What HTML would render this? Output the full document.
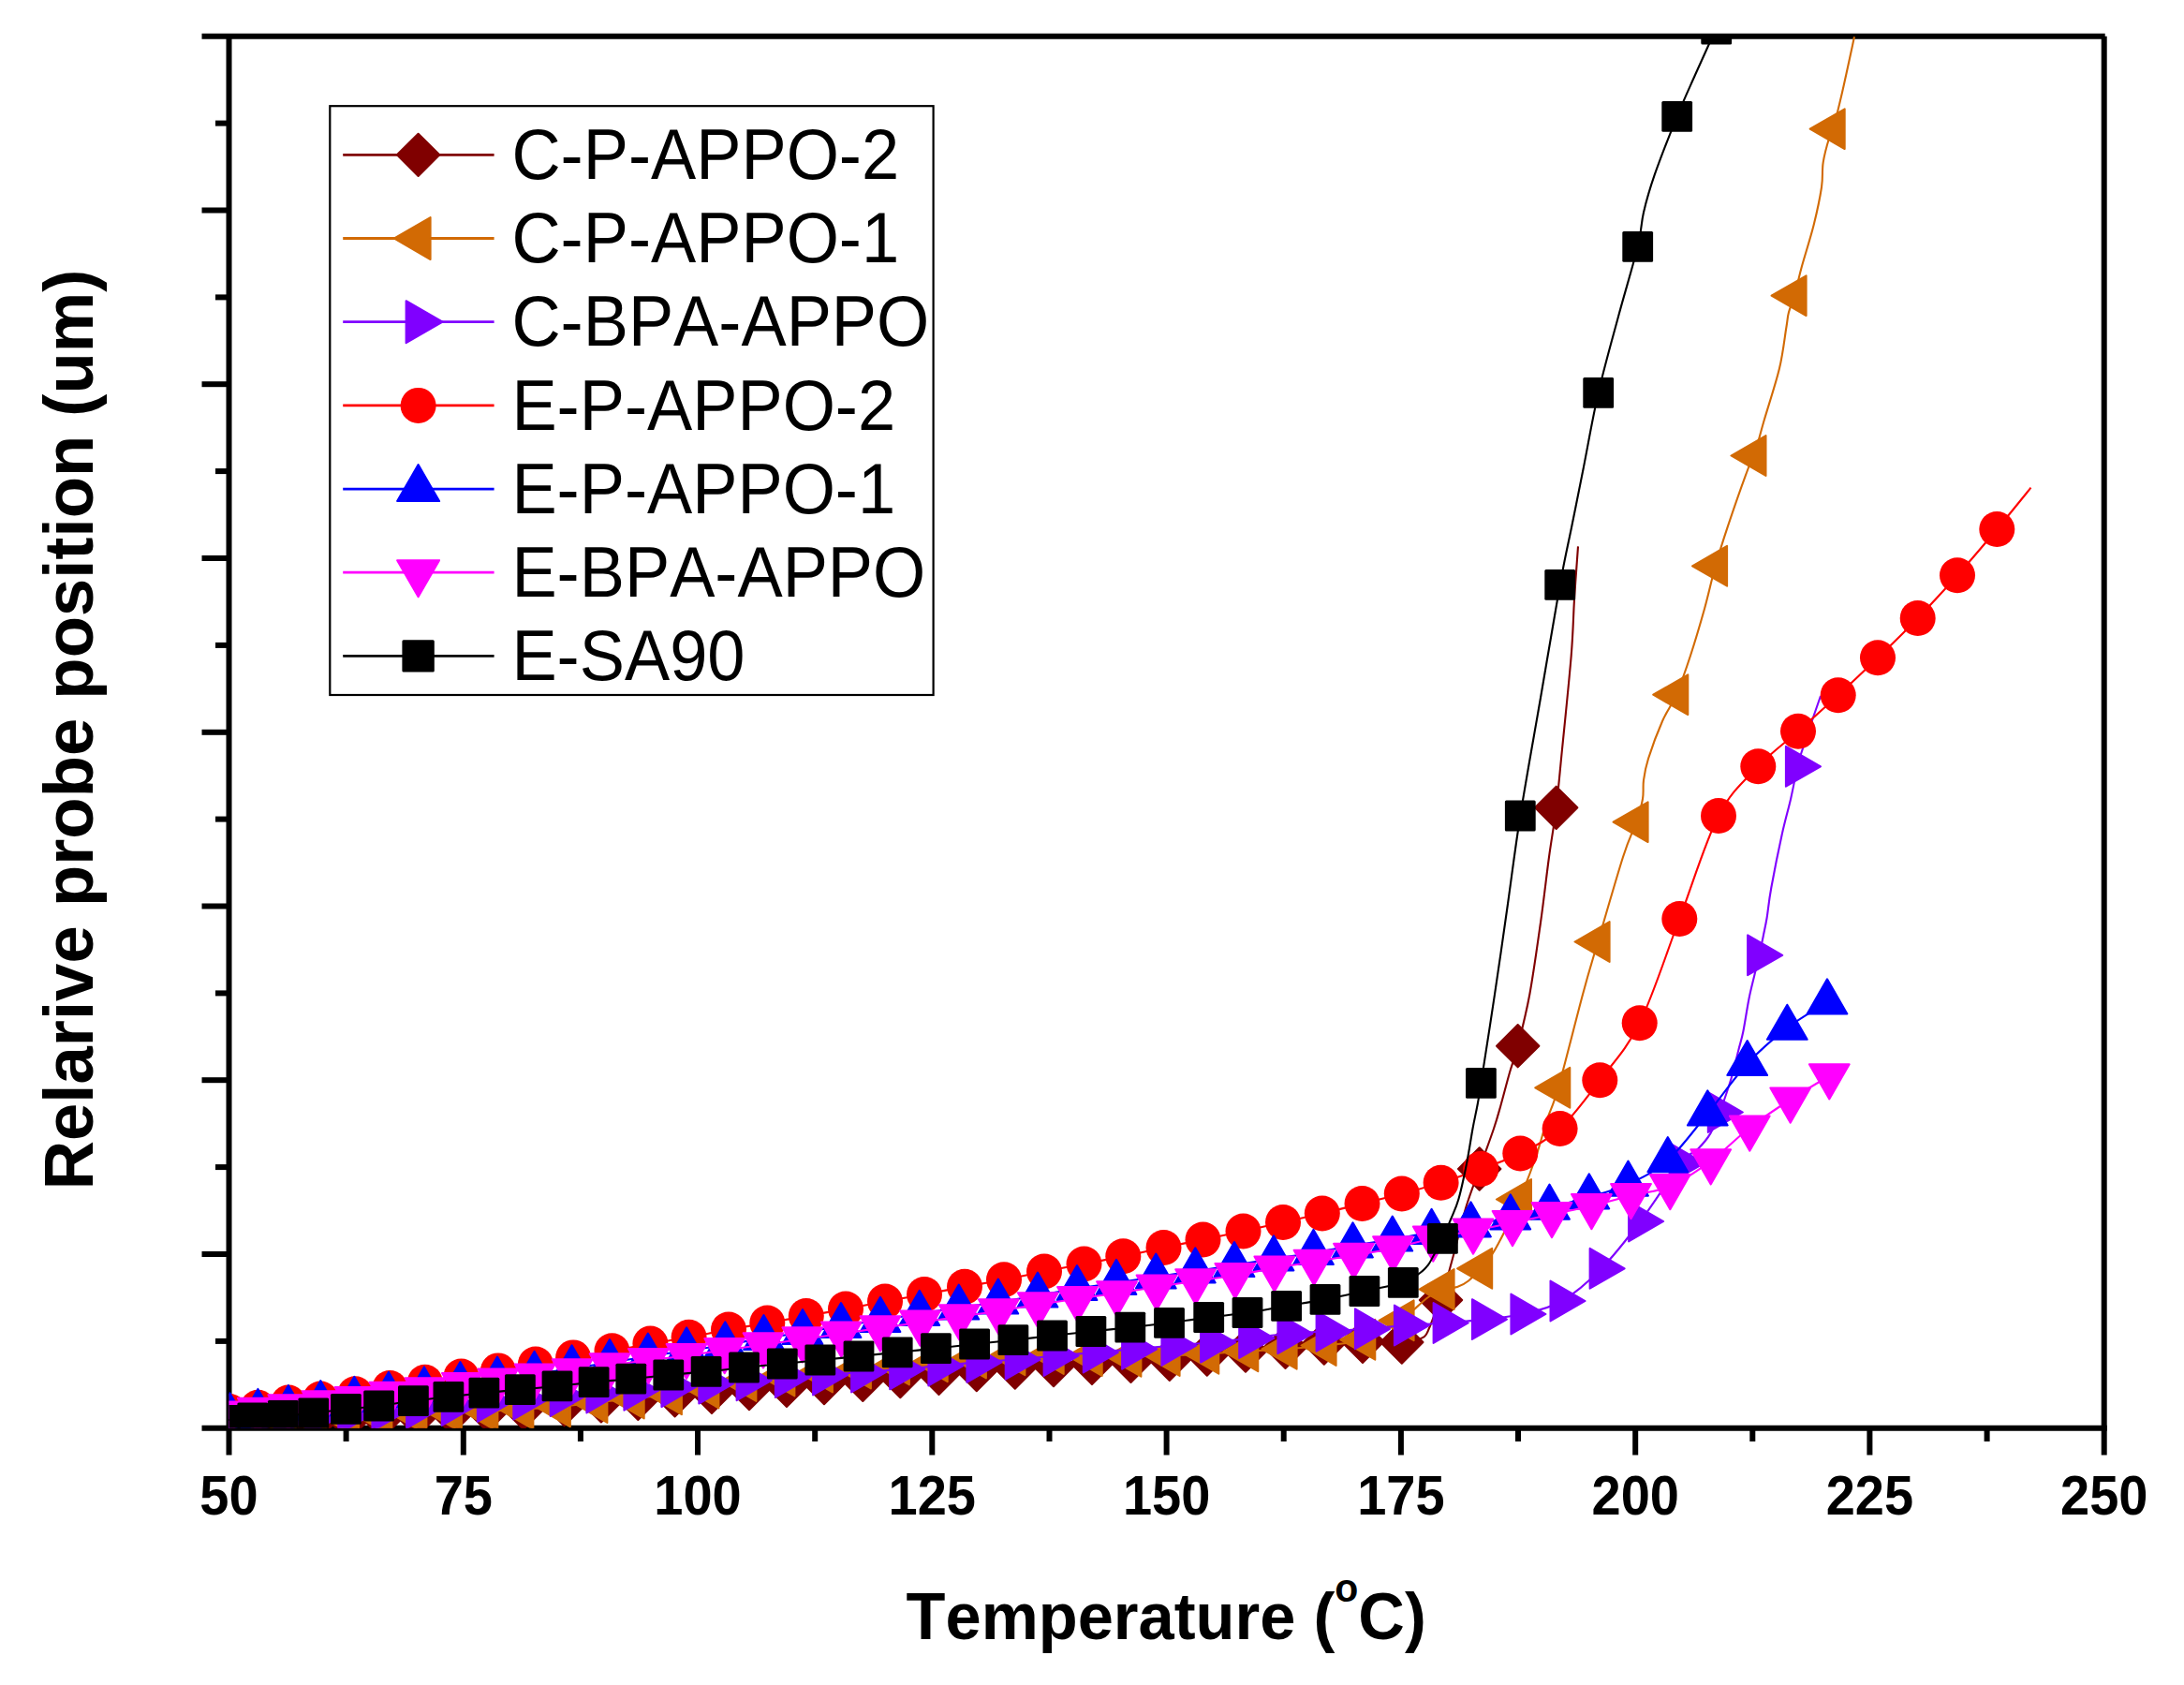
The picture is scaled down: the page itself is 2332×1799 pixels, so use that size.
<!DOCTYPE html>
<html lang="en"><head><meta charset="utf-8"><title>Relative probe position vs Temperature</title>
<style>
html,body{margin:0;padding:0;background:#fff;}
body{width:2332px;height:1799px;overflow:hidden;}
svg{display:block;}
text{font-family:"Liberation Sans",sans-serif;fill:#000;font-kerning:none;}
.tick{font-weight:bold;font-size:56px;text-anchor:middle;}
.xt{font-weight:bold;font-size:68.65px;}
.yt{font-weight:bold;font-size:72.5px;text-anchor:middle;}
.leg{font-size:72.3px;font-kerning:none;}
</style></head><body>
<svg width="2332" height="1799" viewBox="0 0 2332 1799">
<rect width="2332" height="1799" fill="#fff"/>
<defs><clipPath id="plot"><rect x="244.5" y="38.8" width="2002.2" height="1486"/></clipPath></defs>
<g stroke="#000" stroke-width="6" fill="none" stroke-linecap="butt">
<path d="M215.5,1524.8 H2249.7"/>
<path d="M215.5,38.8 H2247.7"/>
<path d="M244.5,36.2 V1553.5"/>
<path d="M2246.7,38.8 V1553.5"/>
<path d="M369.6,1524.8 V1539"/>
<path d="M494.8,1524.8 V1553.5"/>
<path d="M619.9,1524.8 V1539"/>
<path d="M745,1524.8 V1553.5"/>
<path d="M870.2,1524.8 V1539"/>
<path d="M995.3,1524.8 V1553.5"/>
<path d="M1120.5,1524.8 V1539"/>
<path d="M1245.6,1524.8 V1553.5"/>
<path d="M1370.7,1524.8 V1539"/>
<path d="M1495.9,1524.8 V1553.5"/>
<path d="M1621,1524.8 V1539"/>
<path d="M1746.2,1524.8 V1553.5"/>
<path d="M1871.3,1524.8 V1539"/>
<path d="M1996.4,1524.8 V1553.5"/>
<path d="M2121.6,1524.8 V1539"/>
<path d="M230,1431.9 H244.5"/>
<path d="M215.5,1339 H244.5"/>
<path d="M230,1246.1 H244.5"/>
<path d="M215.5,1153.2 H244.5"/>
<path d="M230,1060.4 H244.5"/>
<path d="M215.5,967.5 H244.5"/>
<path d="M230,874.6 H244.5"/>
<path d="M215.5,781.8 H244.5"/>
<path d="M230,688.9 H244.5"/>
<path d="M215.5,596 H244.5"/>
<path d="M230,503.1 H244.5"/>
<path d="M215.5,410.2 H244.5"/>
<path d="M230,317.4 H244.5"/>
<path d="M215.5,224.5 H244.5"/>
<path d="M230,131.6 H244.5"/>
</g>
<g clip-path="url(#plot)">
<g>
<path d="M241.5,1522C246.5,1521.8 261.2,1521 271.5,1520.5C281.8,1520 292.6,1519.6 303.5,1519C314.4,1518.4 325.6,1517.7 337,1517C348.4,1516.3 360.2,1515.7 372,1515C383.8,1514.3 395.8,1513.7 408,1513C420.2,1512.3 432.6,1511.8 445,1511C457.4,1510.2 469.9,1509.3 482.5,1508.5C495.1,1507.7 507.8,1506.8 520.5,1506C533.2,1505.2 545.3,1504.6 559,1503.5C572.7,1502.4 588.7,1500.8 602.5,1499.5C616.3,1498.2 628.8,1496.8 641.9,1495.8C655,1494.8 668.2,1494.3 681.3,1493.3C694.4,1492.3 707.5,1490.9 720.6,1489.8C733.7,1488.7 746.8,1487.6 760,1486.4C773.2,1485.2 786.7,1483.7 800,1482.5C813.3,1481.3 826.7,1480.3 840,1479.3C853.3,1478.3 866.5,1477.5 880,1476.5C893.5,1475.5 907.8,1474.5 921.3,1473.3C934.8,1472.1 947.8,1470.7 961.3,1469.5C974.8,1468.3 988.9,1467.6 1002.5,1466.4C1016.1,1465.2 1029.2,1463.6 1042.8,1462.6C1056.3,1461.5 1070.1,1460.9 1083.8,1460.1C1097.5,1459.3 1111.3,1458.4 1125,1457.6C1138.7,1456.8 1152.2,1456.1 1166,1455.4C1179.8,1454.7 1193.7,1454 1207.5,1453.3C1221.3,1452.6 1235.2,1452.5 1248.8,1451.3C1262.3,1450.1 1275.3,1447.5 1288.8,1446C1302.3,1444.5 1316,1443.3 1330,1442C1344,1440.7 1358.5,1439.6 1372.5,1438.3C1386.5,1437 1400,1435 1413.8,1434C1427.5,1433 1441.2,1432.5 1455,1432.3C1468.8,1432.1 1487.6,1433.2 1496.8,1433C1506,1432.8 1506,1432 1510,1431C1514,1430 1518.3,1429.2 1521,1427C1523.7,1424.8 1524.2,1422 1526,1418C1527.8,1414 1529.9,1408 1532,1403C1534.1,1398 1535.2,1398.5 1538.5,1388C1541.8,1377.5 1547.6,1356.3 1552,1340C1556.4,1323.7 1560.4,1305.3 1565,1290C1569.6,1274.7 1574.7,1262.2 1579.7,1248C1584.7,1233.8 1591.2,1216.3 1595,1205C1598.8,1193.7 1599.7,1190 1602.5,1180C1605.3,1170 1609,1155.5 1612,1145C1615,1134.5 1617.2,1130.6 1620.7,1116.7C1624.2,1102.8 1629.2,1083.7 1633.3,1061.7C1637.3,1039.8 1641.5,1009.5 1645,985C1648.5,960.5 1651.2,935.5 1654,915C1656.8,894.5 1659.4,881.5 1661.7,862.3C1664,843.1 1665.3,827 1668,800C1670.7,773 1675.5,726.7 1677.7,700C1679.9,673.3 1679.8,659.5 1681,640C1682.2,620.5 1684.3,592.8 1685,583.3" fill="none" stroke="#800000" stroke-width="2.1" stroke-linejoin="round" stroke-linecap="butt"/>
<polygon points="241.5,1499.3 264.2,1522 241.5,1544.7 218.8,1522" fill="#800000" stroke="#800000" stroke-width="2" stroke-linejoin="round"/>
<polygon points="271.5,1497.8 294.2,1520.5 271.5,1543.2 248.8,1520.5" fill="#800000" stroke="#800000" stroke-width="2" stroke-linejoin="round"/>
<polygon points="303.5,1496.3 326.2,1519 303.5,1541.7 280.8,1519" fill="#800000" stroke="#800000" stroke-width="2" stroke-linejoin="round"/>
<polygon points="337,1494.3 359.7,1517 337,1539.7 314.3,1517" fill="#800000" stroke="#800000" stroke-width="2" stroke-linejoin="round"/>
<polygon points="372,1492.3 394.7,1515 372,1537.7 349.3,1515" fill="#800000" stroke="#800000" stroke-width="2" stroke-linejoin="round"/>
<polygon points="408,1490.3 430.7,1513 408,1535.7 385.3,1513" fill="#800000" stroke="#800000" stroke-width="2" stroke-linejoin="round"/>
<polygon points="445,1488.3 467.7,1511 445,1533.7 422.3,1511" fill="#800000" stroke="#800000" stroke-width="2" stroke-linejoin="round"/>
<polygon points="482.5,1485.8 505.2,1508.5 482.5,1531.2 459.8,1508.5" fill="#800000" stroke="#800000" stroke-width="2" stroke-linejoin="round"/>
<polygon points="520.5,1483.3 543.2,1506 520.5,1528.7 497.8,1506" fill="#800000" stroke="#800000" stroke-width="2" stroke-linejoin="round"/>
<polygon points="559,1480.8 581.7,1503.5 559,1526.2 536.3,1503.5" fill="#800000" stroke="#800000" stroke-width="2" stroke-linejoin="round"/>
<polygon points="602.5,1476.8 625.2,1499.5 602.5,1522.2 579.8,1499.5" fill="#800000" stroke="#800000" stroke-width="2" stroke-linejoin="round"/>
<polygon points="641.9,1473.1 664.6,1495.8 641.9,1518.5 619.2,1495.8" fill="#800000" stroke="#800000" stroke-width="2" stroke-linejoin="round"/>
<polygon points="681.3,1470.6 704,1493.3 681.3,1516 658.6,1493.3" fill="#800000" stroke="#800000" stroke-width="2" stroke-linejoin="round"/>
<polygon points="720.6,1467.1 743.3,1489.8 720.6,1512.5 697.9,1489.8" fill="#800000" stroke="#800000" stroke-width="2" stroke-linejoin="round"/>
<polygon points="760,1463.7 782.7,1486.4 760,1509.1 737.3,1486.4" fill="#800000" stroke="#800000" stroke-width="2" stroke-linejoin="round"/>
<polygon points="800,1459.8 822.7,1482.5 800,1505.2 777.3,1482.5" fill="#800000" stroke="#800000" stroke-width="2" stroke-linejoin="round"/>
<polygon points="840,1456.6 862.7,1479.3 840,1502 817.3,1479.3" fill="#800000" stroke="#800000" stroke-width="2" stroke-linejoin="round"/>
<polygon points="880,1453.8 902.7,1476.5 880,1499.2 857.3,1476.5" fill="#800000" stroke="#800000" stroke-width="2" stroke-linejoin="round"/>
<polygon points="921.3,1450.6 944,1473.3 921.3,1496 898.6,1473.3" fill="#800000" stroke="#800000" stroke-width="2" stroke-linejoin="round"/>
<polygon points="961.3,1446.8 984,1469.5 961.3,1492.2 938.6,1469.5" fill="#800000" stroke="#800000" stroke-width="2" stroke-linejoin="round"/>
<polygon points="1002.5,1443.7 1025.2,1466.4 1002.5,1489.1 979.8,1466.4" fill="#800000" stroke="#800000" stroke-width="2" stroke-linejoin="round"/>
<polygon points="1042.8,1439.9 1065.5,1462.6 1042.8,1485.3 1020.1,1462.6" fill="#800000" stroke="#800000" stroke-width="2" stroke-linejoin="round"/>
<polygon points="1083.8,1437.4 1106.5,1460.1 1083.8,1482.8 1061.1,1460.1" fill="#800000" stroke="#800000" stroke-width="2" stroke-linejoin="round"/>
<polygon points="1125,1434.9 1147.7,1457.6 1125,1480.3 1102.3,1457.6" fill="#800000" stroke="#800000" stroke-width="2" stroke-linejoin="round"/>
<polygon points="1166,1432.7 1188.7,1455.4 1166,1478.1 1143.3,1455.4" fill="#800000" stroke="#800000" stroke-width="2" stroke-linejoin="round"/>
<polygon points="1207.5,1430.6 1230.2,1453.3 1207.5,1476 1184.8,1453.3" fill="#800000" stroke="#800000" stroke-width="2" stroke-linejoin="round"/>
<polygon points="1248.8,1428.6 1271.5,1451.3 1248.8,1474 1226.1,1451.3" fill="#800000" stroke="#800000" stroke-width="2" stroke-linejoin="round"/>
<polygon points="1288.8,1423.3 1311.5,1446 1288.8,1468.7 1266.1,1446" fill="#800000" stroke="#800000" stroke-width="2" stroke-linejoin="round"/>
<polygon points="1330,1419.3 1352.7,1442 1330,1464.7 1307.3,1442" fill="#800000" stroke="#800000" stroke-width="2" stroke-linejoin="round"/>
<polygon points="1372.5,1415.6 1395.2,1438.3 1372.5,1461 1349.8,1438.3" fill="#800000" stroke="#800000" stroke-width="2" stroke-linejoin="round"/>
<polygon points="1413.8,1411.3 1436.5,1434 1413.8,1456.7 1391.1,1434" fill="#800000" stroke="#800000" stroke-width="2" stroke-linejoin="round"/>
<polygon points="1455,1409.6 1477.7,1432.3 1455,1455 1432.3,1432.3" fill="#800000" stroke="#800000" stroke-width="2" stroke-linejoin="round"/>
<polygon points="1496.8,1410.3 1519.5,1433 1496.8,1455.7 1474.1,1433" fill="#800000" stroke="#800000" stroke-width="2" stroke-linejoin="round"/>
<polygon points="1538.5,1365.3 1561.2,1388 1538.5,1410.7 1515.8,1388" fill="#800000" stroke="#800000" stroke-width="2" stroke-linejoin="round"/>
<polygon points="1579.7,1225.3 1602.4,1248 1579.7,1270.7 1557,1248" fill="#800000" stroke="#800000" stroke-width="2" stroke-linejoin="round"/>
<polygon points="1620.7,1094 1643.4,1116.7 1620.7,1139.4 1598,1116.7" fill="#800000" stroke="#800000" stroke-width="2" stroke-linejoin="round"/>
<polygon points="1661.7,839.6 1684.4,862.3 1661.7,885 1639,862.3" fill="#800000" stroke="#800000" stroke-width="2" stroke-linejoin="round"/>
</g>
<g>
<path d="M241.5,1521C246.4,1520.8 260.7,1520 271,1519.5C281.3,1519 292.7,1518.6 303.5,1518C314.3,1517.4 324.8,1516.7 336,1516C347.2,1515.3 358.9,1514.7 370.6,1514C382.3,1513.3 393.9,1512.7 406,1512C418.1,1511.3 430.6,1510.7 443,1510C455.4,1509.3 467.8,1508.5 480.5,1508C493.2,1507.5 506.2,1507.6 519,1507C531.8,1506.4 544.1,1505.3 557,1504.5C569.9,1503.7 583.3,1503.1 596.5,1501.9C609.7,1500.7 622.9,1499 636,1497.5C649.1,1496 662,1494.5 675.3,1493.1C688.5,1491.6 702.2,1490.6 715.5,1488.8C728.8,1487 741.8,1484.4 755,1482C768.2,1479.6 781.5,1476.7 795,1474.5C808.5,1472.3 822.4,1470.6 836,1469C849.6,1467.4 862.9,1466.3 876.5,1465C890.1,1463.7 903.8,1462.3 917.5,1461C931.2,1459.7 944.9,1458.2 958.5,1457C972.1,1455.8 985.6,1455 999.3,1453.8C1013,1452.6 1026.7,1451.2 1040.5,1450C1054.3,1448.8 1068.2,1447.5 1082,1446.8C1095.8,1446 1109.6,1445.4 1123.3,1445.5C1137,1445.6 1150.5,1447 1164.3,1447.5C1178.1,1448 1192.2,1448.3 1206,1448.3C1219.8,1448.3 1233.4,1448 1247.2,1447.5C1261,1447 1275,1446.1 1288.9,1445.3C1302.9,1444.5 1317,1443.6 1330.9,1442.8C1344.8,1442 1358.3,1441.3 1372.2,1440.3C1386.1,1439.2 1400.2,1438.2 1414.2,1436.5C1428.2,1434.8 1442.1,1434.8 1455.9,1430.3C1469.7,1425.8 1488.2,1415.2 1497.2,1409.8C1506.2,1404.4 1505.4,1402.1 1510,1398C1514.6,1393.9 1520,1388.6 1525,1385C1530,1381.4 1535,1378.3 1540.2,1376.5C1545.4,1374.7 1551.4,1375.5 1556,1374C1560.6,1372.5 1563.9,1370.8 1568,1367.5C1572.1,1364.2 1576.5,1359.2 1580.8,1354.3C1585.1,1349.4 1589.5,1345 1594,1338C1598.5,1331 1603.2,1321.6 1608,1312C1612.8,1302.4 1617.3,1293.3 1622.6,1280.5C1627.9,1267.7 1635.1,1249.2 1640,1235C1644.9,1220.8 1648,1207.3 1652,1195C1656,1182.7 1657.6,1183.5 1663.9,1161.3C1670.2,1139.1 1683,1087.7 1690,1061.7C1697,1035.7 1699,1030 1706.2,1005.5C1713.4,981 1726.2,936.3 1733,915C1739.8,893.7 1743.7,888 1747.2,877.7C1750.7,867.4 1752.7,860.5 1754,853C1755.3,845.5 1754,840.2 1755,833C1756,825.8 1756.7,820.5 1760,810C1763.3,799.5 1770,781.4 1775,770C1780,758.6 1784.9,753.4 1789.9,741.7C1794.9,730 1800,715.3 1805,700C1810,684.7 1815.5,666 1820,650C1824.5,634 1827.5,619 1831.7,604.3C1835.9,589.6 1839.2,579.1 1845,561.7C1850.8,544.3 1862,512.5 1866.7,500C1871.4,487.5 1870.3,494.8 1873.1,486.5C1875.9,478.2 1878.8,465.5 1883.3,450C1887.8,434.5 1896,410 1900,393.3C1904,376.6 1905.6,360 1907.3,350C1909,340 1908.5,339 1910,333.3C1911.5,327.6 1914,323.5 1916.2,315.7C1918.4,307.9 1919.9,299.3 1923.3,286.7C1926.7,274.1 1933.1,254.4 1936.7,240C1940.3,225.6 1943.3,211.1 1945,200C1946.7,188.9 1945.3,182.2 1946.7,173.3C1948.1,164.4 1951.5,152.6 1953.3,146.7C1955.1,140.8 1955.1,145.5 1957.3,137.7C1959.5,129.9 1962.9,116.4 1966.7,100C1970.5,83.6 1977.8,49.4 1980,39.3" fill="none" stroke="#D26A04" stroke-width="2.1" stroke-linejoin="round" stroke-linecap="butt"/>
<polygon points="216.8,1521 253.9,1499.6 253.9,1542.4" fill="#D26A04" stroke="#D26A04" stroke-width="2" stroke-linejoin="round"/>
<polygon points="246.3,1519.5 283.4,1498.1 283.4,1540.9" fill="#D26A04" stroke="#D26A04" stroke-width="2" stroke-linejoin="round"/>
<polygon points="278.8,1518 315.9,1496.6 315.9,1539.4" fill="#D26A04" stroke="#D26A04" stroke-width="2" stroke-linejoin="round"/>
<polygon points="311.3,1516 348.4,1494.6 348.4,1537.4" fill="#D26A04" stroke="#D26A04" stroke-width="2" stroke-linejoin="round"/>
<polygon points="345.9,1514 383,1492.6 383,1535.4" fill="#D26A04" stroke="#D26A04" stroke-width="2" stroke-linejoin="round"/>
<polygon points="381.3,1512 418.4,1490.6 418.4,1533.4" fill="#D26A04" stroke="#D26A04" stroke-width="2" stroke-linejoin="round"/>
<polygon points="418.3,1510 455.4,1488.6 455.4,1531.4" fill="#D26A04" stroke="#D26A04" stroke-width="2" stroke-linejoin="round"/>
<polygon points="455.8,1508 492.9,1486.6 492.9,1529.4" fill="#D26A04" stroke="#D26A04" stroke-width="2" stroke-linejoin="round"/>
<polygon points="494.3,1507 531.4,1485.6 531.4,1528.4" fill="#D26A04" stroke="#D26A04" stroke-width="2" stroke-linejoin="round"/>
<polygon points="532.3,1504.5 569.4,1483.1 569.4,1525.9" fill="#D26A04" stroke="#D26A04" stroke-width="2" stroke-linejoin="round"/>
<polygon points="571.8,1501.9 608.9,1480.5 608.9,1523.3" fill="#D26A04" stroke="#D26A04" stroke-width="2" stroke-linejoin="round"/>
<polygon points="611.3,1497.5 648.4,1476.1 648.4,1518.9" fill="#D26A04" stroke="#D26A04" stroke-width="2" stroke-linejoin="round"/>
<polygon points="650.6,1493.1 687.7,1471.7 687.7,1514.5" fill="#D26A04" stroke="#D26A04" stroke-width="2" stroke-linejoin="round"/>
<polygon points="690.8,1488.8 727.9,1467.4 727.9,1510.2" fill="#D26A04" stroke="#D26A04" stroke-width="2" stroke-linejoin="round"/>
<polygon points="730.3,1482 767.4,1460.6 767.4,1503.4" fill="#D26A04" stroke="#D26A04" stroke-width="2" stroke-linejoin="round"/>
<polygon points="770.3,1474.5 807.4,1453.1 807.4,1495.9" fill="#D26A04" stroke="#D26A04" stroke-width="2" stroke-linejoin="round"/>
<polygon points="811.3,1469 848.4,1447.6 848.4,1490.4" fill="#D26A04" stroke="#D26A04" stroke-width="2" stroke-linejoin="round"/>
<polygon points="851.8,1465 888.9,1443.6 888.9,1486.4" fill="#D26A04" stroke="#D26A04" stroke-width="2" stroke-linejoin="round"/>
<polygon points="892.8,1461 929.9,1439.6 929.9,1482.4" fill="#D26A04" stroke="#D26A04" stroke-width="2" stroke-linejoin="round"/>
<polygon points="933.8,1457 970.9,1435.6 970.9,1478.4" fill="#D26A04" stroke="#D26A04" stroke-width="2" stroke-linejoin="round"/>
<polygon points="974.6,1453.8 1011.7,1432.4 1011.7,1475.2" fill="#D26A04" stroke="#D26A04" stroke-width="2" stroke-linejoin="round"/>
<polygon points="1015.8,1450 1052.9,1428.6 1052.9,1471.4" fill="#D26A04" stroke="#D26A04" stroke-width="2" stroke-linejoin="round"/>
<polygon points="1057.3,1446.8 1094.4,1425.4 1094.4,1468.2" fill="#D26A04" stroke="#D26A04" stroke-width="2" stroke-linejoin="round"/>
<polygon points="1098.6,1445.5 1135.7,1424.1 1135.7,1466.9" fill="#D26A04" stroke="#D26A04" stroke-width="2" stroke-linejoin="round"/>
<polygon points="1139.6,1447.5 1176.7,1426.1 1176.7,1468.9" fill="#D26A04" stroke="#D26A04" stroke-width="2" stroke-linejoin="round"/>
<polygon points="1181.3,1448.3 1218.4,1426.9 1218.4,1469.7" fill="#D26A04" stroke="#D26A04" stroke-width="2" stroke-linejoin="round"/>
<polygon points="1222.5,1447.5 1259.6,1426.1 1259.6,1468.9" fill="#D26A04" stroke="#D26A04" stroke-width="2" stroke-linejoin="round"/>
<polygon points="1264.2,1445.3 1301.3,1423.9 1301.3,1466.7" fill="#D26A04" stroke="#D26A04" stroke-width="2" stroke-linejoin="round"/>
<polygon points="1306.2,1442.8 1343.3,1421.4 1343.3,1464.2" fill="#D26A04" stroke="#D26A04" stroke-width="2" stroke-linejoin="round"/>
<polygon points="1347.5,1440.3 1384.6,1418.9 1384.6,1461.7" fill="#D26A04" stroke="#D26A04" stroke-width="2" stroke-linejoin="round"/>
<polygon points="1389.5,1436.5 1426.6,1415.1 1426.6,1457.9" fill="#D26A04" stroke="#D26A04" stroke-width="2" stroke-linejoin="round"/>
<polygon points="1431.2,1430.3 1468.3,1408.9 1468.3,1451.7" fill="#D26A04" stroke="#D26A04" stroke-width="2" stroke-linejoin="round"/>
<polygon points="1472.5,1409.8 1509.6,1388.4 1509.6,1431.2" fill="#D26A04" stroke="#D26A04" stroke-width="2" stroke-linejoin="round"/>
<polygon points="1515.5,1376.5 1552.6,1355.1 1552.6,1397.9" fill="#D26A04" stroke="#D26A04" stroke-width="2" stroke-linejoin="round"/>
<polygon points="1556.1,1354.3 1593.2,1332.9 1593.2,1375.7" fill="#D26A04" stroke="#D26A04" stroke-width="2" stroke-linejoin="round"/>
<polygon points="1597.9,1280.5 1635,1259.1 1635,1301.9" fill="#D26A04" stroke="#D26A04" stroke-width="2" stroke-linejoin="round"/>
<polygon points="1639.2,1161.3 1676.3,1139.9 1676.3,1182.7" fill="#D26A04" stroke="#D26A04" stroke-width="2" stroke-linejoin="round"/>
<polygon points="1681.5,1005.5 1718.6,984.1 1718.6,1026.9" fill="#D26A04" stroke="#D26A04" stroke-width="2" stroke-linejoin="round"/>
<polygon points="1722.5,877.7 1759.6,856.3 1759.6,899.1" fill="#D26A04" stroke="#D26A04" stroke-width="2" stroke-linejoin="round"/>
<polygon points="1765.2,741.7 1802.3,720.3 1802.3,763.1" fill="#D26A04" stroke="#D26A04" stroke-width="2" stroke-linejoin="round"/>
<polygon points="1807,604.3 1844.1,582.9 1844.1,625.7" fill="#D26A04" stroke="#D26A04" stroke-width="2" stroke-linejoin="round"/>
<polygon points="1848.4,486.5 1885.5,465.1 1885.5,507.9" fill="#D26A04" stroke="#D26A04" stroke-width="2" stroke-linejoin="round"/>
<polygon points="1891.5,315.7 1928.6,294.3 1928.6,337.1" fill="#D26A04" stroke="#D26A04" stroke-width="2" stroke-linejoin="round"/>
<polygon points="1932.6,137.7 1969.7,116.3 1969.7,159.1" fill="#D26A04" stroke="#D26A04" stroke-width="2" stroke-linejoin="round"/>
</g>
<g>
<path d="M243,1519C248,1518.7 262.7,1517.8 273,1517C283.3,1516.2 294.1,1515.3 305,1514.5C315.9,1513.7 327.1,1512.8 338.5,1512C349.9,1511.2 361.7,1510.4 373.6,1509.5C385.5,1508.6 397.7,1507.5 409.8,1506.5C421.9,1505.5 434.1,1504.5 446.5,1503.5C458.9,1502.5 471.6,1501.8 484.2,1500.6C496.8,1499.4 509.5,1497.7 522.3,1496.6C535,1495.5 547.7,1495 560.7,1494C573.7,1493 587.1,1491.8 600.1,1490.6C613.1,1489.4 625.7,1488 638.8,1487C651.9,1486 665.5,1485.3 678.8,1484.3C692.1,1483.2 705.5,1481.9 718.8,1480.7C732.1,1479.5 745.3,1478.4 758.7,1477.2C772.1,1476 785.4,1474.9 799,1473.8C812.6,1472.7 826.7,1471.5 840.3,1470.5C853.9,1469.5 867,1468.9 880.5,1468C894,1467.1 907.8,1466 921.5,1465C935.2,1464 948.9,1463.1 962.6,1461.9C976.3,1460.8 990.1,1459.3 1003.8,1458.1C1017.5,1456.8 1031.1,1455.5 1044.8,1454.4C1058.5,1453.3 1072.4,1452.5 1086.1,1451.3C1099.8,1450.1 1113.2,1448.7 1127,1447.5C1140.8,1446.3 1155.3,1445.2 1169.2,1444C1183.1,1442.8 1196.6,1441.5 1210.5,1440.3C1224.4,1439 1238.8,1437.7 1252.8,1436.5C1266.8,1435.3 1280.7,1434.5 1294.5,1433.2C1308.3,1431.9 1321.9,1430.2 1335.6,1428.6C1349.3,1427 1363.1,1425 1376.8,1423.8C1390.5,1422.6 1404.2,1422.1 1418,1421.3C1431.8,1420.5 1445.4,1419.8 1459.3,1418.8C1473.2,1417.8 1487.3,1416 1501.3,1415C1515.2,1414 1529.2,1413.6 1543,1412.5C1556.8,1411.4 1570.5,1410.2 1584.3,1408.6C1598.1,1407 1611.9,1406.3 1625.8,1403C1639.7,1399.7 1653.9,1397.1 1667.9,1389C1681.9,1380.9 1696.1,1368.5 1710,1354.3C1723.9,1340.1 1737.3,1322.8 1751.5,1304C1765.7,1285.2 1784.7,1254.7 1795,1241.8C1805.3,1228.9 1808,1231.8 1813.2,1226.5C1818.5,1221.2 1822.7,1216.4 1826.5,1209.9C1830.3,1203.4 1833.7,1193.7 1836.2,1187.5C1838.7,1181.3 1839.8,1177.9 1841.5,1173C1843.2,1168.1 1845.1,1162.3 1846.5,1158C1847.9,1153.7 1848.2,1153.1 1849.8,1147C1851.4,1140.9 1854.4,1128.9 1856.3,1121.2C1858.2,1113.5 1859.6,1110.1 1861.4,1101C1863.2,1091.9 1865.4,1076.8 1867.4,1066.7C1869.4,1056.6 1871.7,1048.3 1873.5,1040.5C1875.3,1032.7 1877,1026.5 1878.5,1019.8C1880,1013.1 1881.2,1006.8 1882.6,1000.2C1883.9,993.6 1885.1,988.7 1886.6,980C1888,971.3 1888.6,962.6 1891.3,947.8C1894,932.9 1899.2,906.7 1902.7,890.9C1906.2,875.1 1909.3,865 1912.1,852.9C1914.9,840.8 1917.4,826.5 1919.3,818.3C1921.2,810.1 1920.9,811.6 1923.5,803.5C1926.1,795.4 1931.5,779.5 1934.9,769.4C1938.3,759.3 1942.5,747.4 1944,743" fill="none" stroke="#8000FF" stroke-width="2.1" stroke-linejoin="round" stroke-linecap="butt"/>
<polygon points="267.7,1519 230.6,1497.6 230.6,1540.4" fill="#8000FF" stroke="#8000FF" stroke-width="2" stroke-linejoin="round"/>
<polygon points="297.7,1517 260.6,1495.6 260.6,1538.4" fill="#8000FF" stroke="#8000FF" stroke-width="2" stroke-linejoin="round"/>
<polygon points="329.7,1514.5 292.6,1493.1 292.6,1535.9" fill="#8000FF" stroke="#8000FF" stroke-width="2" stroke-linejoin="round"/>
<polygon points="363.2,1512 326.1,1490.6 326.1,1533.4" fill="#8000FF" stroke="#8000FF" stroke-width="2" stroke-linejoin="round"/>
<polygon points="398.3,1509.5 361.2,1488.1 361.2,1530.9" fill="#8000FF" stroke="#8000FF" stroke-width="2" stroke-linejoin="round"/>
<polygon points="434.5,1506.5 397.4,1485.1 397.4,1527.9" fill="#8000FF" stroke="#8000FF" stroke-width="2" stroke-linejoin="round"/>
<polygon points="471.2,1503.5 434.1,1482.1 434.1,1524.9" fill="#8000FF" stroke="#8000FF" stroke-width="2" stroke-linejoin="round"/>
<polygon points="508.9,1500.6 471.8,1479.2 471.8,1522" fill="#8000FF" stroke="#8000FF" stroke-width="2" stroke-linejoin="round"/>
<polygon points="547,1496.6 509.9,1475.2 509.9,1518" fill="#8000FF" stroke="#8000FF" stroke-width="2" stroke-linejoin="round"/>
<polygon points="585.4,1494 548.3,1472.6 548.3,1515.4" fill="#8000FF" stroke="#8000FF" stroke-width="2" stroke-linejoin="round"/>
<polygon points="624.8,1490.6 587.7,1469.2 587.7,1512" fill="#8000FF" stroke="#8000FF" stroke-width="2" stroke-linejoin="round"/>
<polygon points="663.5,1487 626.4,1465.6 626.4,1508.4" fill="#8000FF" stroke="#8000FF" stroke-width="2" stroke-linejoin="round"/>
<polygon points="703.5,1484.3 666.4,1462.9 666.4,1505.7" fill="#8000FF" stroke="#8000FF" stroke-width="2" stroke-linejoin="round"/>
<polygon points="743.5,1480.7 706.4,1459.3 706.4,1502.1" fill="#8000FF" stroke="#8000FF" stroke-width="2" stroke-linejoin="round"/>
<polygon points="783.4,1477.2 746.3,1455.8 746.3,1498.6" fill="#8000FF" stroke="#8000FF" stroke-width="2" stroke-linejoin="round"/>
<polygon points="823.7,1473.8 786.6,1452.4 786.6,1495.2" fill="#8000FF" stroke="#8000FF" stroke-width="2" stroke-linejoin="round"/>
<polygon points="865,1470.5 827.9,1449.1 827.9,1491.9" fill="#8000FF" stroke="#8000FF" stroke-width="2" stroke-linejoin="round"/>
<polygon points="905.2,1468 868.1,1446.6 868.1,1489.4" fill="#8000FF" stroke="#8000FF" stroke-width="2" stroke-linejoin="round"/>
<polygon points="946.2,1465 909.1,1443.6 909.1,1486.4" fill="#8000FF" stroke="#8000FF" stroke-width="2" stroke-linejoin="round"/>
<polygon points="987.3,1461.9 950.2,1440.5 950.2,1483.3" fill="#8000FF" stroke="#8000FF" stroke-width="2" stroke-linejoin="round"/>
<polygon points="1028.5,1458.1 991.4,1436.7 991.4,1479.5" fill="#8000FF" stroke="#8000FF" stroke-width="2" stroke-linejoin="round"/>
<polygon points="1069.5,1454.4 1032.4,1433 1032.4,1475.8" fill="#8000FF" stroke="#8000FF" stroke-width="2" stroke-linejoin="round"/>
<polygon points="1110.8,1451.3 1073.7,1429.9 1073.7,1472.7" fill="#8000FF" stroke="#8000FF" stroke-width="2" stroke-linejoin="round"/>
<polygon points="1151.7,1447.5 1114.6,1426.1 1114.6,1468.9" fill="#8000FF" stroke="#8000FF" stroke-width="2" stroke-linejoin="round"/>
<polygon points="1193.9,1444 1156.8,1422.6 1156.8,1465.4" fill="#8000FF" stroke="#8000FF" stroke-width="2" stroke-linejoin="round"/>
<polygon points="1235.2,1440.3 1198.1,1418.9 1198.1,1461.7" fill="#8000FF" stroke="#8000FF" stroke-width="2" stroke-linejoin="round"/>
<polygon points="1277.5,1436.5 1240.4,1415.1 1240.4,1457.9" fill="#8000FF" stroke="#8000FF" stroke-width="2" stroke-linejoin="round"/>
<polygon points="1319.2,1433.2 1282.1,1411.8 1282.1,1454.6" fill="#8000FF" stroke="#8000FF" stroke-width="2" stroke-linejoin="round"/>
<polygon points="1360.3,1428.6 1323.2,1407.2 1323.2,1450" fill="#8000FF" stroke="#8000FF" stroke-width="2" stroke-linejoin="round"/>
<polygon points="1401.5,1423.8 1364.4,1402.4 1364.4,1445.2" fill="#8000FF" stroke="#8000FF" stroke-width="2" stroke-linejoin="round"/>
<polygon points="1442.7,1421.3 1405.6,1399.9 1405.6,1442.7" fill="#8000FF" stroke="#8000FF" stroke-width="2" stroke-linejoin="round"/>
<polygon points="1484,1418.8 1446.9,1397.4 1446.9,1440.2" fill="#8000FF" stroke="#8000FF" stroke-width="2" stroke-linejoin="round"/>
<polygon points="1526,1415 1488.9,1393.6 1488.9,1436.4" fill="#8000FF" stroke="#8000FF" stroke-width="2" stroke-linejoin="round"/>
<polygon points="1567.7,1412.5 1530.6,1391.1 1530.6,1433.9" fill="#8000FF" stroke="#8000FF" stroke-width="2" stroke-linejoin="round"/>
<polygon points="1609,1408.6 1571.9,1387.2 1571.9,1430" fill="#8000FF" stroke="#8000FF" stroke-width="2" stroke-linejoin="round"/>
<polygon points="1650.5,1403 1613.4,1381.6 1613.4,1424.4" fill="#8000FF" stroke="#8000FF" stroke-width="2" stroke-linejoin="round"/>
<polygon points="1692.6,1389 1655.5,1367.6 1655.5,1410.4" fill="#8000FF" stroke="#8000FF" stroke-width="2" stroke-linejoin="round"/>
<polygon points="1734.7,1354.3 1697.6,1332.9 1697.6,1375.7" fill="#8000FF" stroke="#8000FF" stroke-width="2" stroke-linejoin="round"/>
<polygon points="1776.2,1304 1739.1,1282.6 1739.1,1325.4" fill="#8000FF" stroke="#8000FF" stroke-width="2" stroke-linejoin="round"/>
<polygon points="1819.7,1241.8 1782.6,1220.4 1782.6,1263.2" fill="#8000FF" stroke="#8000FF" stroke-width="2" stroke-linejoin="round"/>
<polygon points="1860.9,1187.5 1823.8,1166.1 1823.8,1208.9" fill="#8000FF" stroke="#8000FF" stroke-width="2" stroke-linejoin="round"/>
<polygon points="1903.2,1019.8 1866.1,998.4 1866.1,1041.2" fill="#8000FF" stroke="#8000FF" stroke-width="2" stroke-linejoin="round"/>
<polygon points="1944,818.3 1906.9,796.9 1906.9,839.7" fill="#8000FF" stroke="#8000FF" stroke-width="2" stroke-linejoin="round"/>
</g>
<g>
<path d="M245,1507C250.1,1506.3 265,1504.4 275.5,1502.8C286,1501.2 296.9,1499.1 308,1497.6C319.1,1496 330.4,1495 342.3,1493.5C354.2,1492 367,1490.2 379.3,1488.3C391.6,1486.4 403.9,1484.1 416.3,1482C428.7,1479.9 441.1,1477.9 453.8,1475.8C466.5,1473.7 479.5,1471.6 492.5,1469.5C505.5,1467.4 518.7,1465.6 531.9,1463.4C545.1,1461.2 558.5,1458.8 571.9,1456.5C585.3,1454.2 598.5,1451.8 612.1,1449.4C625.7,1447 639.8,1444.8 653.5,1442.3C667.2,1439.8 680.7,1437 694.4,1434.6C708.1,1432.2 721.7,1430.2 735.6,1427.7C749.5,1425.2 764,1422 778,1419.5C792,1417 805.5,1414.9 819.3,1412.5C833.1,1410.1 846.8,1407.5 860.8,1405C874.8,1402.5 889,1400.1 903,1397.5C917,1394.9 931,1392.1 945,1389.5C959,1386.9 972.8,1384.6 987,1382C1001.2,1379.4 1015.8,1376.4 1030,1373.8C1044.2,1371.2 1057.8,1369 1072,1366.3C1086.2,1363.6 1100.8,1360.3 1115,1357.5C1129.2,1354.7 1143.5,1352.2 1157.5,1349.5C1171.5,1346.8 1185.1,1344.2 1199.3,1341.3C1213.5,1338.4 1228.3,1335 1242.5,1332C1256.7,1329 1270.3,1326.4 1284.5,1323.5C1298.7,1320.6 1313.2,1317.6 1327.5,1314.5C1341.8,1311.4 1356,1308.2 1370,1305C1384,1301.8 1397.7,1298.8 1411.8,1295.5C1425.9,1292.2 1440.3,1288.5 1454.5,1285C1468.7,1281.5 1482.8,1278.2 1496.8,1274.5C1510.8,1270.8 1524.5,1267.1 1538.6,1262.7C1552.7,1258.3 1567.1,1253.2 1581.2,1248C1595.3,1242.8 1609.2,1238.7 1623.3,1231.5C1637.4,1224.3 1651.4,1218 1665.6,1205C1679.8,1192 1694.1,1172.1 1708.3,1153.3C1722.5,1134.5 1736.5,1121 1750.7,1092.3C1764.9,1063.6 1779.2,1017.9 1793.3,981C1807.3,944.1 1821,898.1 1835,871C1849,843.9 1863.1,833.3 1877.3,818.3C1891.5,803.2 1905.8,793.4 1920,780.7C1934.2,768 1948.5,755.4 1962.7,742.3C1976.9,729.2 1990.8,716 2005,702.3C2019.2,688.6 2033.5,674.7 2047.7,660C2061.9,645.3 2075.9,630.1 2090,614.3C2104.1,598.5 2119.2,580.6 2132.3,565C2145.4,549.4 2162.5,528.1 2168.5,520.7" fill="none" stroke="#FF0000" stroke-width="2.1" stroke-linejoin="round" stroke-linecap="butt"/>
<circle cx="245" cy="1507" r="19" fill="#FF0000"/>
<circle cx="275.5" cy="1502.8" r="19" fill="#FF0000"/>
<circle cx="308" cy="1497.6" r="19" fill="#FF0000"/>
<circle cx="342.3" cy="1493.5" r="19" fill="#FF0000"/>
<circle cx="379.3" cy="1488.3" r="19" fill="#FF0000"/>
<circle cx="416.3" cy="1482" r="19" fill="#FF0000"/>
<circle cx="453.8" cy="1475.8" r="19" fill="#FF0000"/>
<circle cx="492.5" cy="1469.5" r="19" fill="#FF0000"/>
<circle cx="531.9" cy="1463.4" r="19" fill="#FF0000"/>
<circle cx="571.9" cy="1456.5" r="19" fill="#FF0000"/>
<circle cx="612.1" cy="1449.4" r="19" fill="#FF0000"/>
<circle cx="653.5" cy="1442.3" r="19" fill="#FF0000"/>
<circle cx="694.4" cy="1434.6" r="19" fill="#FF0000"/>
<circle cx="735.6" cy="1427.7" r="19" fill="#FF0000"/>
<circle cx="778" cy="1419.5" r="19" fill="#FF0000"/>
<circle cx="819.3" cy="1412.5" r="19" fill="#FF0000"/>
<circle cx="860.8" cy="1405" r="19" fill="#FF0000"/>
<circle cx="903" cy="1397.5" r="19" fill="#FF0000"/>
<circle cx="945" cy="1389.5" r="19" fill="#FF0000"/>
<circle cx="987" cy="1382" r="19" fill="#FF0000"/>
<circle cx="1030" cy="1373.8" r="19" fill="#FF0000"/>
<circle cx="1072" cy="1366.3" r="19" fill="#FF0000"/>
<circle cx="1115" cy="1357.5" r="19" fill="#FF0000"/>
<circle cx="1157.5" cy="1349.5" r="19" fill="#FF0000"/>
<circle cx="1199.3" cy="1341.3" r="19" fill="#FF0000"/>
<circle cx="1242.5" cy="1332" r="19" fill="#FF0000"/>
<circle cx="1284.5" cy="1323.5" r="19" fill="#FF0000"/>
<circle cx="1327.5" cy="1314.5" r="19" fill="#FF0000"/>
<circle cx="1370" cy="1305" r="19" fill="#FF0000"/>
<circle cx="1411.8" cy="1295.5" r="19" fill="#FF0000"/>
<circle cx="1454.5" cy="1285" r="19" fill="#FF0000"/>
<circle cx="1496.8" cy="1274.5" r="19" fill="#FF0000"/>
<circle cx="1538.6" cy="1262.7" r="19" fill="#FF0000"/>
<circle cx="1581.2" cy="1248" r="19" fill="#FF0000"/>
<circle cx="1623.3" cy="1231.5" r="19" fill="#FF0000"/>
<circle cx="1665.6" cy="1205" r="19" fill="#FF0000"/>
<circle cx="1708.3" cy="1153.3" r="19" fill="#FF0000"/>
<circle cx="1750.7" cy="1092.3" r="19" fill="#FF0000"/>
<circle cx="1793.3" cy="981" r="19" fill="#FF0000"/>
<circle cx="1835" cy="871" r="19" fill="#FF0000"/>
<circle cx="1877.3" cy="818.3" r="19" fill="#FF0000"/>
<circle cx="1920" cy="780.7" r="19" fill="#FF0000"/>
<circle cx="1962.7" cy="742.3" r="19" fill="#FF0000"/>
<circle cx="2005" cy="702.3" r="19" fill="#FF0000"/>
<circle cx="2047.7" cy="660" r="19" fill="#FF0000"/>
<circle cx="2090" cy="614.3" r="19" fill="#FF0000"/>
<circle cx="2132.3" cy="565" r="19" fill="#FF0000"/>
</g>
<g>
<path d="M245.4,1512C250.4,1511.3 265,1509 275.4,1507.6C285.8,1506.2 296.8,1505.3 307.9,1503.8C319,1502.3 330.6,1500.3 342.3,1498.8C354,1497.2 366.2,1496 378.3,1494.5C390.4,1493 402.6,1491.2 415,1489.5C427.4,1487.8 440.2,1485.9 452.9,1484.1C465.6,1482.3 478.4,1480.6 491.4,1478.8C504.4,1477 517.8,1475.1 531,1473.2C544.2,1471.3 557.3,1469.4 570.6,1467.4C583.9,1465.4 597.2,1463.1 610.6,1461C624,1458.9 637.5,1456.9 651,1454.8C664.5,1452.7 678.2,1450.3 691.9,1448.2C705.6,1446.1 719.4,1444 733.1,1442C746.8,1440 760.6,1438.2 774.3,1436C788,1433.8 801.7,1430.9 815.5,1428.7C829.3,1426.5 843.2,1424.9 857,1422.7C870.8,1420.5 884.2,1417.9 898,1415.7C911.8,1413.5 926,1411.7 940,1409.5C954,1407.3 967.8,1404.7 981.8,1402.5C995.8,1400.3 1009.8,1398.2 1023.8,1396.2C1037.8,1394.2 1051.8,1392.4 1065.8,1390.2C1079.8,1388 1094,1385.6 1108,1383.2C1122,1380.8 1136,1378 1150,1375.7C1164,1373.4 1178,1371.6 1192,1369.5C1206,1367.4 1220.2,1365.3 1234.3,1363.2C1248.3,1361.1 1262.3,1359.1 1276.3,1357C1290.2,1354.9 1304,1352.9 1318,1350.7C1332,1348.5 1345.9,1346.2 1360,1344C1374.1,1341.8 1388.4,1339.8 1402.5,1337.5C1416.6,1335.2 1430.5,1332.4 1444.5,1330C1458.5,1327.6 1472.8,1325.6 1486.8,1323.2C1500.8,1320.8 1514.6,1318 1528.6,1315.5C1542.5,1313 1556.5,1310.6 1570.5,1308C1584.5,1305.4 1598.8,1303.1 1612.8,1300C1626.8,1296.9 1640.5,1293 1654.5,1289.3C1668.5,1285.6 1682.8,1282.2 1696.8,1278C1710.8,1273.8 1724.5,1270.8 1738.5,1264.3C1752.5,1257.8 1766.7,1251.3 1780.8,1238.8C1794.9,1226.2 1809.1,1206.2 1823.3,1189C1837.5,1171.8 1851.5,1151 1865.7,1135.7C1879.9,1120.4 1894.1,1108.4 1908.3,1097.4C1922.5,1086.5 1943.9,1074.6 1951,1070" fill="none" stroke="#0000FF" stroke-width="2.1" stroke-linejoin="round" stroke-linecap="butt"/>
<polygon points="245.4,1487.3 266.8,1524.4 224,1524.4" fill="#0000FF" stroke="#0000FF" stroke-width="2" stroke-linejoin="round"/>
<polygon points="275.4,1482.9 296.8,1520 254,1520" fill="#0000FF" stroke="#0000FF" stroke-width="2" stroke-linejoin="round"/>
<polygon points="307.9,1479.1 329.3,1516.2 286.5,1516.2" fill="#0000FF" stroke="#0000FF" stroke-width="2" stroke-linejoin="round"/>
<polygon points="342.3,1474.1 363.7,1511.2 320.9,1511.2" fill="#0000FF" stroke="#0000FF" stroke-width="2" stroke-linejoin="round"/>
<polygon points="378.3,1469.8 399.7,1506.9 356.9,1506.9" fill="#0000FF" stroke="#0000FF" stroke-width="2" stroke-linejoin="round"/>
<polygon points="415,1464.8 436.4,1501.9 393.6,1501.9" fill="#0000FF" stroke="#0000FF" stroke-width="2" stroke-linejoin="round"/>
<polygon points="452.9,1459.4 474.3,1496.5 431.5,1496.5" fill="#0000FF" stroke="#0000FF" stroke-width="2" stroke-linejoin="round"/>
<polygon points="491.4,1454.1 512.8,1491.2 470,1491.2" fill="#0000FF" stroke="#0000FF" stroke-width="2" stroke-linejoin="round"/>
<polygon points="531,1448.5 552.4,1485.6 509.6,1485.6" fill="#0000FF" stroke="#0000FF" stroke-width="2" stroke-linejoin="round"/>
<polygon points="570.6,1442.7 592,1479.8 549.2,1479.8" fill="#0000FF" stroke="#0000FF" stroke-width="2" stroke-linejoin="round"/>
<polygon points="610.6,1436.3 632,1473.4 589.2,1473.4" fill="#0000FF" stroke="#0000FF" stroke-width="2" stroke-linejoin="round"/>
<polygon points="651,1430.1 672.4,1467.2 629.6,1467.2" fill="#0000FF" stroke="#0000FF" stroke-width="2" stroke-linejoin="round"/>
<polygon points="691.9,1423.5 713.3,1460.6 670.5,1460.6" fill="#0000FF" stroke="#0000FF" stroke-width="2" stroke-linejoin="round"/>
<polygon points="733.1,1417.3 754.5,1454.4 711.7,1454.4" fill="#0000FF" stroke="#0000FF" stroke-width="2" stroke-linejoin="round"/>
<polygon points="774.3,1411.3 795.7,1448.4 752.9,1448.4" fill="#0000FF" stroke="#0000FF" stroke-width="2" stroke-linejoin="round"/>
<polygon points="815.5,1404 836.9,1441.1 794.1,1441.1" fill="#0000FF" stroke="#0000FF" stroke-width="2" stroke-linejoin="round"/>
<polygon points="857,1398 878.4,1435.1 835.6,1435.1" fill="#0000FF" stroke="#0000FF" stroke-width="2" stroke-linejoin="round"/>
<polygon points="898,1391 919.4,1428.1 876.6,1428.1" fill="#0000FF" stroke="#0000FF" stroke-width="2" stroke-linejoin="round"/>
<polygon points="940,1384.8 961.4,1421.9 918.6,1421.9" fill="#0000FF" stroke="#0000FF" stroke-width="2" stroke-linejoin="round"/>
<polygon points="981.8,1377.8 1003.2,1414.9 960.4,1414.9" fill="#0000FF" stroke="#0000FF" stroke-width="2" stroke-linejoin="round"/>
<polygon points="1023.8,1371.5 1045.2,1408.6 1002.4,1408.6" fill="#0000FF" stroke="#0000FF" stroke-width="2" stroke-linejoin="round"/>
<polygon points="1065.8,1365.5 1087.2,1402.6 1044.4,1402.6" fill="#0000FF" stroke="#0000FF" stroke-width="2" stroke-linejoin="round"/>
<polygon points="1108,1358.5 1129.4,1395.6 1086.6,1395.6" fill="#0000FF" stroke="#0000FF" stroke-width="2" stroke-linejoin="round"/>
<polygon points="1150,1351 1171.4,1388.1 1128.6,1388.1" fill="#0000FF" stroke="#0000FF" stroke-width="2" stroke-linejoin="round"/>
<polygon points="1192,1344.8 1213.4,1381.9 1170.6,1381.9" fill="#0000FF" stroke="#0000FF" stroke-width="2" stroke-linejoin="round"/>
<polygon points="1234.3,1338.5 1255.7,1375.6 1212.9,1375.6" fill="#0000FF" stroke="#0000FF" stroke-width="2" stroke-linejoin="round"/>
<polygon points="1276.3,1332.3 1297.7,1369.4 1254.9,1369.4" fill="#0000FF" stroke="#0000FF" stroke-width="2" stroke-linejoin="round"/>
<polygon points="1318,1326 1339.4,1363.1 1296.6,1363.1" fill="#0000FF" stroke="#0000FF" stroke-width="2" stroke-linejoin="round"/>
<polygon points="1360,1319.3 1381.4,1356.4 1338.6,1356.4" fill="#0000FF" stroke="#0000FF" stroke-width="2" stroke-linejoin="round"/>
<polygon points="1402.5,1312.8 1423.9,1349.9 1381.1,1349.9" fill="#0000FF" stroke="#0000FF" stroke-width="2" stroke-linejoin="round"/>
<polygon points="1444.5,1305.3 1465.9,1342.4 1423.1,1342.4" fill="#0000FF" stroke="#0000FF" stroke-width="2" stroke-linejoin="round"/>
<polygon points="1486.8,1298.5 1508.2,1335.6 1465.4,1335.6" fill="#0000FF" stroke="#0000FF" stroke-width="2" stroke-linejoin="round"/>
<polygon points="1528.6,1290.8 1550,1327.9 1507.2,1327.9" fill="#0000FF" stroke="#0000FF" stroke-width="2" stroke-linejoin="round"/>
<polygon points="1570.5,1283.3 1591.9,1320.4 1549.1,1320.4" fill="#0000FF" stroke="#0000FF" stroke-width="2" stroke-linejoin="round"/>
<polygon points="1612.8,1275.3 1634.2,1312.4 1591.4,1312.4" fill="#0000FF" stroke="#0000FF" stroke-width="2" stroke-linejoin="round"/>
<polygon points="1654.5,1264.6 1675.9,1301.7 1633.1,1301.7" fill="#0000FF" stroke="#0000FF" stroke-width="2" stroke-linejoin="round"/>
<polygon points="1696.8,1253.3 1718.2,1290.4 1675.4,1290.4" fill="#0000FF" stroke="#0000FF" stroke-width="2" stroke-linejoin="round"/>
<polygon points="1738.5,1239.6 1759.9,1276.7 1717.1,1276.7" fill="#0000FF" stroke="#0000FF" stroke-width="2" stroke-linejoin="round"/>
<polygon points="1780.8,1214.1 1802.2,1251.2 1759.4,1251.2" fill="#0000FF" stroke="#0000FF" stroke-width="2" stroke-linejoin="round"/>
<polygon points="1823.3,1164.3 1844.7,1201.4 1801.9,1201.4" fill="#0000FF" stroke="#0000FF" stroke-width="2" stroke-linejoin="round"/>
<polygon points="1865.7,1111 1887.1,1148.1 1844.3,1148.1" fill="#0000FF" stroke="#0000FF" stroke-width="2" stroke-linejoin="round"/>
<polygon points="1908.3,1072.7 1929.7,1109.8 1886.9,1109.8" fill="#0000FF" stroke="#0000FF" stroke-width="2" stroke-linejoin="round"/>
<polygon points="1951,1045.3 1972.4,1082.4 1929.6,1082.4" fill="#0000FF" stroke="#0000FF" stroke-width="2" stroke-linejoin="round"/>
</g>
<g>
<path d="M245,1509C250.1,1508.4 264.8,1506.4 275.3,1505.2C285.8,1504 296.4,1503 307.8,1501.7C319.2,1500.5 332.1,1499.1 344,1497.7C355.9,1496.3 367,1494.9 379,1493.3C391,1491.7 403.4,1489.7 415.9,1488.1C428.4,1486.5 441.1,1485.2 454,1483.6C466.9,1482 480.4,1479.9 493.4,1478.3C506.4,1476.7 518.8,1475.5 531.8,1474C544.8,1472.5 557.9,1470.7 571.1,1469C584.3,1467.3 597.8,1465.6 611.1,1463.7C624.4,1461.8 637.6,1459.6 651.1,1457.7C664.6,1455.8 678.8,1454 692.4,1452.3C706,1450.6 719.5,1449.1 733,1447.3C746.5,1445.5 760,1443.4 773.7,1441.5C787.4,1439.6 801.1,1437.7 815,1435.7C828.9,1433.7 842.9,1431.7 856.8,1429.7C870.7,1427.8 884.4,1426 898.3,1424C912.2,1422 926,1419.7 940,1417.7C954,1415.7 968.5,1414 982.5,1412C996.5,1410 1010.3,1407.8 1024.3,1405.7C1038.3,1403.7 1052.3,1401.9 1066.3,1399.7C1080.3,1397.5 1094.3,1394.9 1108.3,1392.7C1122.3,1390.5 1136.5,1388.5 1150.5,1386.5C1164.5,1384.5 1178.4,1382.8 1192.5,1380.7C1206.6,1378.6 1221,1376.2 1235,1374C1249,1371.8 1262.6,1369.8 1276.6,1367.7C1290.6,1365.6 1304.8,1363.8 1318.8,1361.5C1332.8,1359.2 1346.8,1356.4 1360.8,1354C1374.8,1351.6 1388.9,1349.5 1403,1347.2C1417.1,1344.9 1431.4,1342.6 1445.5,1340.2C1459.6,1337.8 1473.4,1335.7 1487.5,1332.7C1501.6,1329.7 1516,1325.1 1530.3,1322C1544.5,1318.9 1558.9,1316.8 1573,1314C1587.1,1311.2 1601,1308.4 1615,1305.5C1629,1302.6 1642.9,1299.5 1657,1296.5C1671.1,1293.5 1685.3,1290.8 1699.4,1287.5C1713.5,1284.2 1727.5,1280 1741.5,1276.5C1755.5,1273 1769.1,1272.6 1783.3,1266.5C1797.5,1260.4 1812.5,1250.1 1826.7,1239.7C1840.9,1229.3 1854.1,1215 1868.3,1204C1882.5,1193 1897.5,1183.2 1911.7,1174C1925.9,1164.8 1946.4,1152.9 1953.3,1148.7" fill="none" stroke="#FF00FF" stroke-width="2.1" stroke-linejoin="round" stroke-linecap="butt"/>
<polygon points="245,1533.7 266.4,1496.6 223.6,1496.6" fill="#FF00FF" stroke="#FF00FF" stroke-width="2" stroke-linejoin="round"/>
<polygon points="275.3,1529.9 296.7,1492.8 253.9,1492.8" fill="#FF00FF" stroke="#FF00FF" stroke-width="2" stroke-linejoin="round"/>
<polygon points="307.8,1526.4 329.2,1489.3 286.4,1489.3" fill="#FF00FF" stroke="#FF00FF" stroke-width="2" stroke-linejoin="round"/>
<polygon points="344,1522.4 365.4,1485.3 322.6,1485.3" fill="#FF00FF" stroke="#FF00FF" stroke-width="2" stroke-linejoin="round"/>
<polygon points="379,1518 400.4,1480.9 357.6,1480.9" fill="#FF00FF" stroke="#FF00FF" stroke-width="2" stroke-linejoin="round"/>
<polygon points="415.9,1512.8 437.3,1475.7 394.5,1475.7" fill="#FF00FF" stroke="#FF00FF" stroke-width="2" stroke-linejoin="round"/>
<polygon points="454,1508.3 475.4,1471.2 432.6,1471.2" fill="#FF00FF" stroke="#FF00FF" stroke-width="2" stroke-linejoin="round"/>
<polygon points="493.4,1503 514.8,1465.9 472,1465.9" fill="#FF00FF" stroke="#FF00FF" stroke-width="2" stroke-linejoin="round"/>
<polygon points="531.8,1498.7 553.2,1461.6 510.4,1461.6" fill="#FF00FF" stroke="#FF00FF" stroke-width="2" stroke-linejoin="round"/>
<polygon points="571.1,1493.7 592.5,1456.6 549.7,1456.6" fill="#FF00FF" stroke="#FF00FF" stroke-width="2" stroke-linejoin="round"/>
<polygon points="611.1,1488.4 632.5,1451.3 589.7,1451.3" fill="#FF00FF" stroke="#FF00FF" stroke-width="2" stroke-linejoin="round"/>
<polygon points="651.1,1482.4 672.5,1445.3 629.7,1445.3" fill="#FF00FF" stroke="#FF00FF" stroke-width="2" stroke-linejoin="round"/>
<polygon points="692.4,1477 713.8,1439.9 671,1439.9" fill="#FF00FF" stroke="#FF00FF" stroke-width="2" stroke-linejoin="round"/>
<polygon points="733,1472 754.4,1434.9 711.6,1434.9" fill="#FF00FF" stroke="#FF00FF" stroke-width="2" stroke-linejoin="round"/>
<polygon points="773.7,1466.2 795.1,1429.1 752.3,1429.1" fill="#FF00FF" stroke="#FF00FF" stroke-width="2" stroke-linejoin="round"/>
<polygon points="815,1460.4 836.4,1423.3 793.6,1423.3" fill="#FF00FF" stroke="#FF00FF" stroke-width="2" stroke-linejoin="round"/>
<polygon points="856.8,1454.4 878.2,1417.3 835.4,1417.3" fill="#FF00FF" stroke="#FF00FF" stroke-width="2" stroke-linejoin="round"/>
<polygon points="898.3,1448.7 919.7,1411.6 876.9,1411.6" fill="#FF00FF" stroke="#FF00FF" stroke-width="2" stroke-linejoin="round"/>
<polygon points="940,1442.4 961.4,1405.3 918.6,1405.3" fill="#FF00FF" stroke="#FF00FF" stroke-width="2" stroke-linejoin="round"/>
<polygon points="982.5,1436.7 1003.9,1399.6 961.1,1399.6" fill="#FF00FF" stroke="#FF00FF" stroke-width="2" stroke-linejoin="round"/>
<polygon points="1024.3,1430.4 1045.7,1393.3 1002.9,1393.3" fill="#FF00FF" stroke="#FF00FF" stroke-width="2" stroke-linejoin="round"/>
<polygon points="1066.3,1424.4 1087.7,1387.3 1044.9,1387.3" fill="#FF00FF" stroke="#FF00FF" stroke-width="2" stroke-linejoin="round"/>
<polygon points="1108.3,1417.4 1129.7,1380.3 1086.9,1380.3" fill="#FF00FF" stroke="#FF00FF" stroke-width="2" stroke-linejoin="round"/>
<polygon points="1150.5,1411.2 1171.9,1374.1 1129.1,1374.1" fill="#FF00FF" stroke="#FF00FF" stroke-width="2" stroke-linejoin="round"/>
<polygon points="1192.5,1405.4 1213.9,1368.3 1171.1,1368.3" fill="#FF00FF" stroke="#FF00FF" stroke-width="2" stroke-linejoin="round"/>
<polygon points="1235,1398.7 1256.4,1361.6 1213.6,1361.6" fill="#FF00FF" stroke="#FF00FF" stroke-width="2" stroke-linejoin="round"/>
<polygon points="1276.6,1392.4 1298,1355.3 1255.2,1355.3" fill="#FF00FF" stroke="#FF00FF" stroke-width="2" stroke-linejoin="round"/>
<polygon points="1318.8,1386.2 1340.2,1349.1 1297.4,1349.1" fill="#FF00FF" stroke="#FF00FF" stroke-width="2" stroke-linejoin="round"/>
<polygon points="1360.8,1378.7 1382.2,1341.6 1339.4,1341.6" fill="#FF00FF" stroke="#FF00FF" stroke-width="2" stroke-linejoin="round"/>
<polygon points="1403,1371.9 1424.4,1334.8 1381.6,1334.8" fill="#FF00FF" stroke="#FF00FF" stroke-width="2" stroke-linejoin="round"/>
<polygon points="1445.5,1364.9 1466.9,1327.8 1424.1,1327.8" fill="#FF00FF" stroke="#FF00FF" stroke-width="2" stroke-linejoin="round"/>
<polygon points="1487.5,1357.4 1508.9,1320.3 1466.1,1320.3" fill="#FF00FF" stroke="#FF00FF" stroke-width="2" stroke-linejoin="round"/>
<polygon points="1530.3,1346.7 1551.7,1309.6 1508.9,1309.6" fill="#FF00FF" stroke="#FF00FF" stroke-width="2" stroke-linejoin="round"/>
<polygon points="1573,1338.7 1594.4,1301.6 1551.6,1301.6" fill="#FF00FF" stroke="#FF00FF" stroke-width="2" stroke-linejoin="round"/>
<polygon points="1615,1330.2 1636.4,1293.1 1593.6,1293.1" fill="#FF00FF" stroke="#FF00FF" stroke-width="2" stroke-linejoin="round"/>
<polygon points="1657,1321.2 1678.4,1284.1 1635.6,1284.1" fill="#FF00FF" stroke="#FF00FF" stroke-width="2" stroke-linejoin="round"/>
<polygon points="1699.4,1312.2 1720.8,1275.1 1678,1275.1" fill="#FF00FF" stroke="#FF00FF" stroke-width="2" stroke-linejoin="round"/>
<polygon points="1741.5,1301.2 1762.9,1264.1 1720.1,1264.1" fill="#FF00FF" stroke="#FF00FF" stroke-width="2" stroke-linejoin="round"/>
<polygon points="1783.3,1291.2 1804.7,1254.1 1761.9,1254.1" fill="#FF00FF" stroke="#FF00FF" stroke-width="2" stroke-linejoin="round"/>
<polygon points="1826.7,1264.4 1848.1,1227.3 1805.3,1227.3" fill="#FF00FF" stroke="#FF00FF" stroke-width="2" stroke-linejoin="round"/>
<polygon points="1868.3,1228.7 1889.7,1191.6 1846.9,1191.6" fill="#FF00FF" stroke="#FF00FF" stroke-width="2" stroke-linejoin="round"/>
<polygon points="1911.7,1198.7 1933.1,1161.6 1890.3,1161.6" fill="#FF00FF" stroke="#FF00FF" stroke-width="2" stroke-linejoin="round"/>
<polygon points="1953.3,1173.4 1974.7,1136.3 1931.9,1136.3" fill="#FF00FF" stroke="#FF00FF" stroke-width="2" stroke-linejoin="round"/>
</g>
<g>
<path d="M240.4,1516.3C245.3,1515.9 259.5,1514.6 269.8,1513.8C280.1,1513 291.5,1512.3 302.3,1511.5C313.1,1510.7 323.6,1510 334.8,1508.8C346,1507.6 357.8,1505.7 369.4,1504.4C381,1503.1 392.6,1502.5 404.6,1501C416.6,1499.5 429,1497.2 441.4,1495.6C453.8,1494 466.3,1492.7 478.9,1491.3C491.5,1489.9 504.1,1488.4 516.9,1487.1C529.6,1485.8 542.4,1484.8 555.4,1483.6C568.4,1482.4 581.9,1481.1 595,1479.8C608.1,1478.5 621,1476.9 634.1,1475.6C647.2,1474.3 660.5,1473.5 673.8,1472.2C687.1,1470.9 700.4,1469.3 713.8,1468C727.2,1466.7 740.6,1465.7 754.1,1464.4C767.6,1463.1 781,1461.4 794.5,1460C808,1458.6 821.8,1457.3 835.3,1456C848.8,1454.7 862.2,1453.3 875.8,1452C889.4,1450.7 903.3,1449.4 917,1448C930.7,1446.6 944.5,1445.2 958.2,1443.8C971.9,1442.4 985.7,1441.1 999.4,1439.6C1013.1,1438.1 1026.8,1436.5 1040.6,1435C1054.3,1433.5 1068.1,1432.2 1081.9,1430.7C1095.7,1429.2 1109.7,1427.5 1123.5,1426C1137.3,1424.5 1151,1423 1164.9,1421.5C1178.8,1420 1192.9,1418.7 1206.8,1417.2C1220.7,1415.7 1234.5,1414.1 1248.5,1412.3C1262.5,1410.5 1276.8,1408.3 1290.7,1406.5C1304.6,1404.7 1318.2,1403.5 1332,1401.5C1345.8,1399.5 1359.8,1396.6 1373.6,1394.3C1387.4,1392 1401.1,1390 1415,1387.4C1428.9,1384.8 1443,1381.5 1456.9,1378.5C1470.8,1375.5 1489.8,1371.7 1498.3,1369.4C1506.8,1367.1 1505.2,1366.1 1508,1364.5C1510.8,1362.9 1512.8,1361.6 1515,1360C1517.2,1358.4 1519.2,1356.8 1521,1355C1522.8,1353.2 1524.3,1351.5 1526,1349C1527.7,1346.5 1529.4,1342.8 1531,1340C1532.6,1337.2 1533.9,1335 1535.5,1332C1537.1,1329 1538.2,1327.3 1540.4,1322.3C1542.7,1317.3 1546.2,1309 1549,1302C1551.8,1295 1554.7,1289.9 1557.5,1280C1560.3,1270.1 1563.5,1255 1566,1242.5C1568.5,1230 1570.6,1215.4 1572.5,1205C1574.4,1194.6 1576,1188.1 1577.5,1180C1579,1171.9 1578.3,1176.1 1581.4,1156.4C1584.5,1136.7 1591.2,1093.6 1596,1061.7C1600.8,1029.8 1605.5,996.8 1610,965C1614.5,933.2 1617.5,907.7 1623.3,871C1629.1,834.3 1637.9,786.1 1645,745C1652.1,703.9 1660.2,654.8 1665.7,624.3C1671.2,593.8 1674.1,582.4 1678.3,561.7C1682.5,541 1686,523.7 1690.7,500C1695.4,476.3 1700.5,446.3 1706.7,419.3C1712.9,392.3 1721,364 1728,338C1735,312 1744.2,281.9 1748.7,263.3C1753.2,244.8 1752,239.5 1755,226.7C1758,213.9 1760.8,203.8 1766.7,186.7C1772.7,169.6 1783.5,142.1 1790.7,124.3C1797.9,106.5 1804.3,92.9 1810,80C1815.7,67.1 1821.2,54.9 1825,46.7C1828.8,38.5 1831.4,33.6 1832.7,31" fill="none" stroke="#000000" stroke-width="2.1" stroke-linejoin="round" stroke-linecap="butt"/>
<rect x="224" y="1499.9" width="32.8" height="32.8" rx="1.5" fill="#000000"/>
<rect x="253.4" y="1497.4" width="32.8" height="32.8" rx="1.5" fill="#000000"/>
<rect x="285.9" y="1495.1" width="32.8" height="32.8" rx="1.5" fill="#000000"/>
<rect x="318.4" y="1492.4" width="32.8" height="32.8" rx="1.5" fill="#000000"/>
<rect x="353" y="1488" width="32.8" height="32.8" rx="1.5" fill="#000000"/>
<rect x="388.2" y="1484.6" width="32.8" height="32.8" rx="1.5" fill="#000000"/>
<rect x="425" y="1479.2" width="32.8" height="32.8" rx="1.5" fill="#000000"/>
<rect x="462.5" y="1474.9" width="32.8" height="32.8" rx="1.5" fill="#000000"/>
<rect x="500.5" y="1470.7" width="32.8" height="32.8" rx="1.5" fill="#000000"/>
<rect x="539" y="1467.2" width="32.8" height="32.8" rx="1.5" fill="#000000"/>
<rect x="578.6" y="1463.4" width="32.8" height="32.8" rx="1.5" fill="#000000"/>
<rect x="617.7" y="1459.2" width="32.8" height="32.8" rx="1.5" fill="#000000"/>
<rect x="657.4" y="1455.8" width="32.8" height="32.8" rx="1.5" fill="#000000"/>
<rect x="697.4" y="1451.6" width="32.8" height="32.8" rx="1.5" fill="#000000"/>
<rect x="737.7" y="1448" width="32.8" height="32.8" rx="1.5" fill="#000000"/>
<rect x="778.1" y="1443.6" width="32.8" height="32.8" rx="1.5" fill="#000000"/>
<rect x="818.9" y="1439.6" width="32.8" height="32.8" rx="1.5" fill="#000000"/>
<rect x="859.4" y="1435.6" width="32.8" height="32.8" rx="1.5" fill="#000000"/>
<rect x="900.6" y="1431.6" width="32.8" height="32.8" rx="1.5" fill="#000000"/>
<rect x="941.8" y="1427.4" width="32.8" height="32.8" rx="1.5" fill="#000000"/>
<rect x="983" y="1423.2" width="32.8" height="32.8" rx="1.5" fill="#000000"/>
<rect x="1024.2" y="1418.6" width="32.8" height="32.8" rx="1.5" fill="#000000"/>
<rect x="1065.5" y="1414.3" width="32.8" height="32.8" rx="1.5" fill="#000000"/>
<rect x="1107.1" y="1409.6" width="32.8" height="32.8" rx="1.5" fill="#000000"/>
<rect x="1148.5" y="1405.1" width="32.8" height="32.8" rx="1.5" fill="#000000"/>
<rect x="1190.4" y="1400.8" width="32.8" height="32.8" rx="1.5" fill="#000000"/>
<rect x="1232.1" y="1395.9" width="32.8" height="32.8" rx="1.5" fill="#000000"/>
<rect x="1274.3" y="1390.1" width="32.8" height="32.8" rx="1.5" fill="#000000"/>
<rect x="1315.6" y="1385.1" width="32.8" height="32.8" rx="1.5" fill="#000000"/>
<rect x="1357.2" y="1377.9" width="32.8" height="32.8" rx="1.5" fill="#000000"/>
<rect x="1398.6" y="1371" width="32.8" height="32.8" rx="1.5" fill="#000000"/>
<rect x="1440.5" y="1362.1" width="32.8" height="32.8" rx="1.5" fill="#000000"/>
<rect x="1481.9" y="1353" width="32.8" height="32.8" rx="1.5" fill="#000000"/>
<rect x="1524" y="1305.9" width="32.8" height="32.8" rx="1.5" fill="#000000"/>
<rect x="1565" y="1140" width="32.8" height="32.8" rx="1.5" fill="#000000"/>
<rect x="1606.9" y="854.6" width="32.8" height="32.8" rx="1.5" fill="#000000"/>
<rect x="1649.3" y="607.9" width="32.8" height="32.8" rx="1.5" fill="#000000"/>
<rect x="1690.3" y="402.9" width="32.8" height="32.8" rx="1.5" fill="#000000"/>
<rect x="1732.3" y="246.9" width="32.8" height="32.8" rx="1.5" fill="#000000"/>
<rect x="1774.3" y="107.9" width="32.8" height="32.8" rx="1.5" fill="#000000"/>
<rect x="1816.3" y="14.6" width="32.8" height="32.8" rx="1.5" fill="#000000"/>
</g>
</g>
<text class="tick" transform="translate(244.5,1616.6) scale(1,1.05)">50</text>
<text class="tick" transform="translate(494.8,1616.6) scale(1,1.05)">75</text>
<text class="tick" transform="translate(745,1616.6) scale(1,1.05)">100</text>
<text class="tick" transform="translate(995.3,1616.6) scale(1,1.05)">125</text>
<text class="tick" transform="translate(1245.6,1616.6) scale(1,1.05)">150</text>
<text class="tick" transform="translate(1495.9,1616.6) scale(1,1.05)">175</text>
<text class="tick" transform="translate(1746.2,1616.6) scale(1,1.05)">200</text>
<text class="tick" transform="translate(1996.4,1616.6) scale(1,1.05)">225</text>
<text class="tick" transform="translate(2246.7,1616.6) scale(1,1.05)">250</text>
<text class="xt" transform="translate(967.6,1749.8) scale(1,1.03)">Temperature (<tspan font-size="41" dy="-38.3">o</tspan><tspan dy="38.3">C)</tspan></text>
<text class="yt" transform="translate(98.8,779) rotate(-90) scale(1,1.015)">Relarive probe position (um)</text>
<rect x="352.3" y="113.2" width="644.3" height="628.8" fill="#fff" stroke="#000" stroke-width="2.2"/>
<path d="M366.2,165.3 H527.6" stroke="#800000" stroke-width="2.8" fill="none"/>
<polygon points="446.6,142.7 469.3,165.3 446.6,188 423.9,165.3" fill="#800000" stroke="#800000" stroke-width="2" stroke-linejoin="round"/>
<text class="leg" transform="translate(546.4,190.9) scale(1,1.045)">C-P-APPO-2</text>
<path d="M366.2,254.5 H527.6" stroke="#D26A04" stroke-width="2.8" fill="none"/>
<polygon points="420.6,254.5 459.6,232 459.6,277.1" fill="#D26A04" stroke="#D26A04" stroke-width="2" stroke-linejoin="round"/>
<text class="leg" transform="translate(546.4,280.1) scale(1,1.045)">C-P-APPO-1</text>
<path d="M366.2,343.7 H527.6" stroke="#8000FF" stroke-width="2.8" fill="none"/>
<polygon points="472.6,343.7 433.6,321.2 433.6,366.2" fill="#8000FF" stroke="#8000FF" stroke-width="2" stroke-linejoin="round"/>
<text class="leg" transform="translate(546.4,369.3) scale(1,1.045)">C-BPA-APPO</text>
<path d="M366.2,432.9 H527.6" stroke="#FF0000" stroke-width="2.8" fill="none"/>
<circle cx="446.6" cy="432.9" r="19" fill="#FF0000"/>
<text class="leg" transform="translate(546.4,458.5) scale(1,1.045)">E-P-APPO-2</text>
<path d="M366.2,522.1 H527.6" stroke="#0000FF" stroke-width="2.8" fill="none"/>
<polygon points="446.6,496.1 469.1,535.1 424.1,535.1" fill="#0000FF" stroke="#0000FF" stroke-width="2" stroke-linejoin="round"/>
<text class="leg" transform="translate(546.4,547.7) scale(1,1.045)">E-P-APPO-1</text>
<path d="M366.2,611.2 H527.6" stroke="#FF00FF" stroke-width="2.8" fill="none"/>
<polygon points="446.6,637.3 469.1,598.2 424.1,598.2" fill="#FF00FF" stroke="#FF00FF" stroke-width="2" stroke-linejoin="round"/>
<text class="leg" transform="translate(546.4,636.9) scale(1,1.045)">E-BPA-APPO</text>
<path d="M366.2,700.4 H527.6" stroke="#000000" stroke-width="2.8" fill="none"/>
<rect x="429.4" y="683.2" width="34.4" height="34.4" rx="1.5" fill="#000000"/>
<text class="leg" transform="translate(546.4,726) scale(1,1.045)">E-SA90</text>
</svg>
</body></html>
